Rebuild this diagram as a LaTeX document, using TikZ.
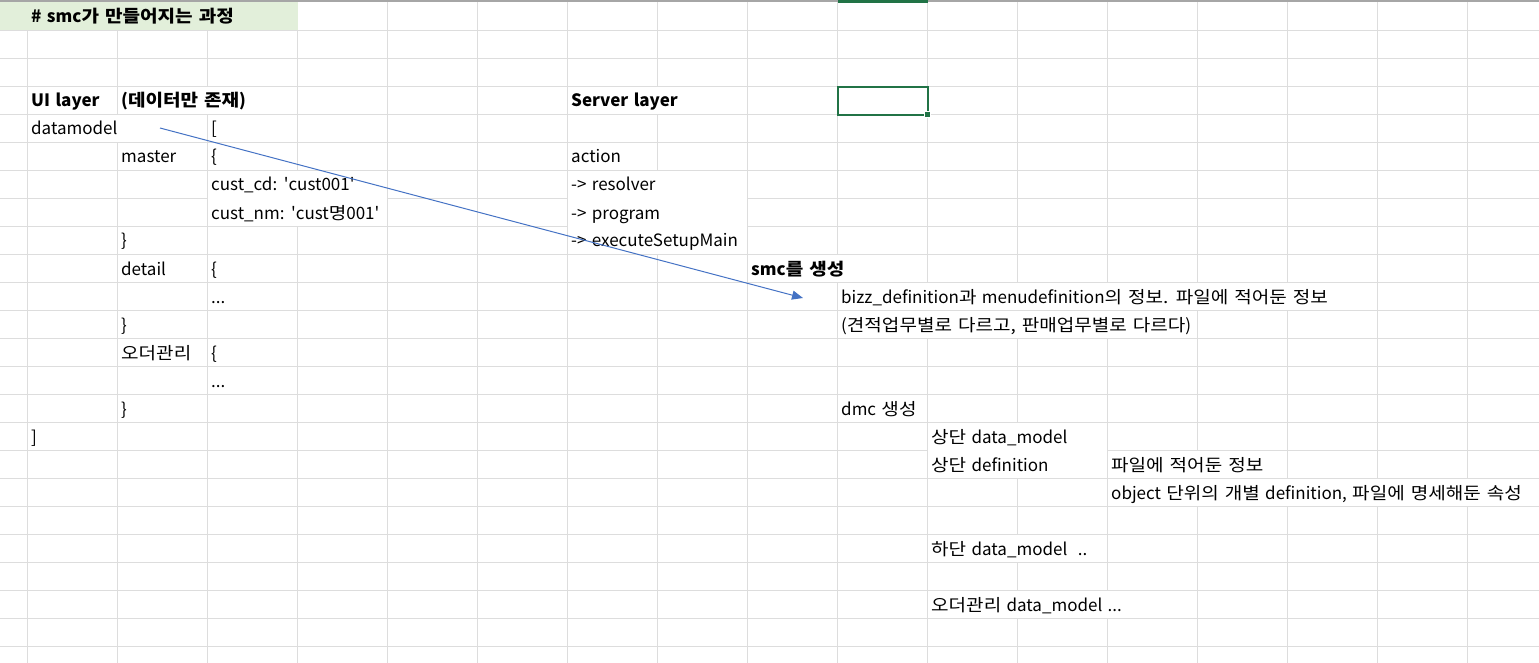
\documentclass[tikz,border=0pt]{standalone}
\usepackage{fontspec}
\setmainfont{Noto Sans CJK KR}[WordSpace=1.4]
\newfontfamily\kofont{Noto Sans CJK KR}[FakeStretch=1.12,WordSpace=1.4]
\newcommand{\ko}[1]{{\kofont #1}}
\usetikzlibrary{arrows.meta}
\definecolor{gridgray}{HTML}{DDDDDD}
\definecolor{topgray}{HTML}{A6A6A6}
\definecolor{headgreen}{HTML}{E2EFDA}
\definecolor{selgreen}{HTML}{217346}
\definecolor{arrowblue}{HTML}{4472C4}
\begin{document}
\begin{tikzpicture}[x=1pt,y=-1pt,
    cell/.style={anchor=base west,inner sep=0pt,font=\fontsize{17}{19}\selectfont},
    headcell/.style={cell,font=\fontsize{17}{19}\selectfont\bfseries},
    gridline/.style={gridgray,line width=1pt},
    spill/.style={fill=white}]
  \useasboundingbox (0,0) rectangle (1539,663);
  % sheet grid
  \foreach \c in {0,...,16}
    \draw[gridline] ({27.5+90*\c},2) -- ({27.5+90*\c},663);
  \foreach \r in {0,...,22}
    \draw[gridline] (0,{30.7+28*\r}) -- (1539,{30.7+28*\r});
  \fill[topgray] (0,0) rectangle (1539,2);
  \fill[selgreen] (837.5,0) rectangle (927.5,3);
  % cells whose text runs over the next ones
  \fill[headgreen] (0,2) rectangle (297.5,30.2);
  \fill[spill] (118.2,87.2) rectangle (296.8,114.2);
  \fill[spill] (568.2,87.2) rectangle (746.8,114.2);
  \fill[spill] (28.2,115.2) rectangle (206.8,142.2);
  \fill[spill] (208.2,171.2) rectangle (386.8,226.2);
  \fill[spill] (568.2,171.2) rectangle (746.8,254.2);
  \fill[spill] (748.2,255.2) rectangle (926.8,282.2);
  \fill[spill] (838.2,283.2) rectangle (1376.8,310.2);
  \fill[spill] (838.2,311.2) rectangle (1196.8,338.2);
  \fill[spill] (928.2,423.2) rectangle (1106.8,478.2);
  \fill[spill] (1108.2,451.2) rectangle (1286.8,478.2);
  \fill[spill] (1108.2,479.2) rectangle (1539,506.2);
  \fill[spill] (928.2,535.2) rectangle (1106.8,562.2);
  \fill[spill] (928.2,591.2) rectangle (1196.8,618.2);
  % selected cell
  \draw[selgreen,line width=2pt] (837.5,86.7) rectangle (927.5,114.7);
  \draw[selgreen,fill=selgreen,draw=white,line width=0.8pt] (924.5,111.7) rectangle (930.5,117.7);
  % cell texts
  \path
    (31,23) node[headcell] (title) {\# smc\ko{가 만들어지는 과정}}
    (31,107) node[headcell] (uilayer) {UI layer}
    (121,107) node[headcell] (dataonly) {(\ko{데이터만 존재})}
    (571,107) node[headcell] (serverlayer) {Server layer}
    (31,135) node[cell] (datamodel) {datamodel}
    (211,135) node[cell] (listopen) {[}
    (121,163) node[cell] (master) {master}
    (211,163) node[cell] (masteropen) {\{}
    (571,163) node[cell] (action) {action}
    (211,191) node[cell] (custcd) {cust\_cd: \textquotesingle cust001\textquotesingle}
    (571,191) node[cell] (resolver) {-> resolver}
    (211,219) node[cell] (custnm) {cust\_nm: \textquotesingle cust\ko{명}001\textquotesingle}
    (571,219) node[cell] (program) {-> program}
    (121,247) node[cell] (masterclose) {\}}
    (571,247) node[cell] (setupmain) {-> executeSetupMain}
    (121,275) node[cell] (detail) {detail}
    (211,275) node[cell] (detailopen) {\{}
    (751,275) node[headcell] (smcmake) {smc\ko{를 생성}}
    (211,303) node[cell] (detaildots) {...}
    (841,303) node[cell] (bizzdef) {bizz\_definition\ko{과} menudefinition\ko{의 정보. 파일에 적어둔 정보}}
    (121,331) node[cell] (detailclose) {\}}
    (841,331) node[cell] (bizznote) {(\ko{견적업무별로 다르고, 판매업무별로 다르다})}
    (121,359) node[cell] (order) {\ko{오더관리}}
    (211,359) node[cell] (orderopen) {\{}
    (211,387) node[cell] (orderdots) {...}
    (121,415) node[cell] (orderclose) {\}}
    (841,415) node[cell] (dmcmake) {dmc \ko{생성}}
    (31,443) node[cell] (listclose) {]}
    (931,443) node[cell] (topmodel) {\ko{상단} data\_model}
    (931,471) node[cell] (topdef) {\ko{상단} definition}
    (1111,471) node[cell] (topdefnote) {\ko{파일에 적어둔 정보}}
    (1111,499) node[cell] (objdef) {object \ko{단위의 개별} definition, \ko{파일에 명세해둔 속성}}
    (931,555) node[cell] (bottommodel) {\ko{하단} data\_model\ \ ..}
    (931,611) node[cell] (ordermodel) {\ko{오더관리} data\_model ...};
  % arrow from datamodel to the smc step
  \coordinate (arrowstart) at (160,128);
  \coordinate (arrowend) at (803,298);
  \draw[arrowblue,line width=1pt,-{Triangle[length=11pt,width=9pt]}] (arrowstart) -- (arrowend);
\end{tikzpicture}
\end{document}
